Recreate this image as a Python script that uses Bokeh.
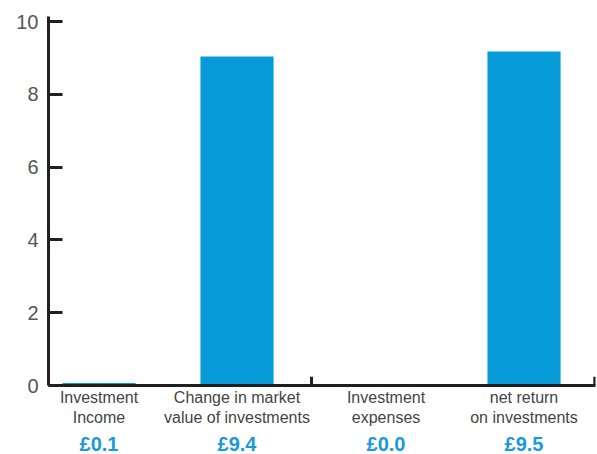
from bokeh.plotting import figure
from bokeh.models import Range1d, FixedTicker, ColumnDataSource
from bokeh.layouts import column
from bokeh.core.properties import value
from bokeh.embed import file_html
from bokeh.resources import INLINE

# ---- data ----
categories = ["Investment\nIncome", "Change in market\nvalue of investments",
              "Investment\nexpenses", "net return\non investments"]
group = [0, 0, 1, 1]
bar_heights = [0.07, 9.04, 0.0, 9.18]          # heights as drawn in the picture
value_labels = ["£0.1", "£9.4", "£0.0", "£9.5"]
y_ticks = [0, 2, 4, 6, 8, 10]

# ---- layout helpers ----
GROUP_GAP = 0.08
BAR_W = 0.53
x_pos = [i + g * GROUP_GAP for i, g in enumerate(group)]
x_start = x_pos[0] - 0.366
x_end = x_pos[-1] + 0.518
mid_boundary = (x_pos[1] + x_pos[2]) / 2

BLUE = "#089bd9"
AXIS = "#231f20"
FONT = "Liberation Sans"

xr = Range1d(x_start, x_end)
p = figure(width=597, height=428, output_backend="svg", toolbar_location=None,
           x_range=xr, y_range=Range1d(0, 10.14),
           min_border_left=48, min_border_right=2, min_border_top=16, min_border_bottom=41)
p.outline_line_color = None
p.grid.grid_line_color = None
p.background_fill_color = "white"
p.border_fill_color = "white"

src = ColumnDataSource(dict(x=x_pos, top=bar_heights, val=value_labels,
                            ly=[0.42] * len(x_pos)))
p.vbar(x="x", top="top", width=BAR_W, bottom=0, source=src, color=BLUE, line_color=None)

# small inward ticks at group boundaries on the x axis
tick_src = ColumnDataSource(dict(x=[mid_boundary, x_end - 0.005], y0=[0, 0], y1=[0.24, 0.24]))
p.segment(x0="x", x1="x", y0="y0", y1="y1", source=tick_src, line_color=AXIS, line_width=3)

# y axis
ya = p.yaxis[0]
ya.ticker = FixedTicker(ticks=y_ticks)
ya.axis_line_width = 3
ya.axis_line_color = AXIS
ya.major_tick_line_width = 3
ya.major_tick_line_color = AXIS
ya.major_tick_in = 14
ya.major_tick_out = 0
ya.minor_tick_line_color = None
ya.major_label_text_font = FONT
ya.major_label_text_font_size = "20px"
ya.major_label_text_color = "#555555"
ya.major_label_standoff = 10

# x axis: category names
xa = p.xaxis[0]
xa.ticker = FixedTicker(ticks=x_pos)
xa.major_label_overrides = {x: c for x, c in zip(x_pos, categories)}
xa.axis_line_width = 3
xa.axis_line_color = AXIS
xa.major_tick_line_color = None
xa.minor_tick_line_color = None
xa.major_tick_in = 0
xa.major_tick_out = 0
xa.major_label_text_font = FONT
xa.major_label_text_font_size = "16px"
xa.major_label_text_color = "#444444"
xa.major_label_standoff = 3

# strip with value labels under the category names
p2 = figure(width=597, height=26, output_backend="svg", toolbar_location=None,
            x_range=xr, y_range=Range1d(0, 1),
            min_border_left=48, min_border_right=2, min_border_top=0, min_border_bottom=0)
p2.axis.visible = False
p2.grid.grid_line_color = None
p2.outline_line_color = None
p2.text(x="x", y="ly", text="val", source=src, text_align="center", text_baseline="middle",
        text_font=value(FONT), text_font_size="20px", text_font_style="bold",
        text_color="#1a9ad8")

layout = column(p, p2, spacing=0)
open("out.html", "w").write(file_html(layout, INLINE))
